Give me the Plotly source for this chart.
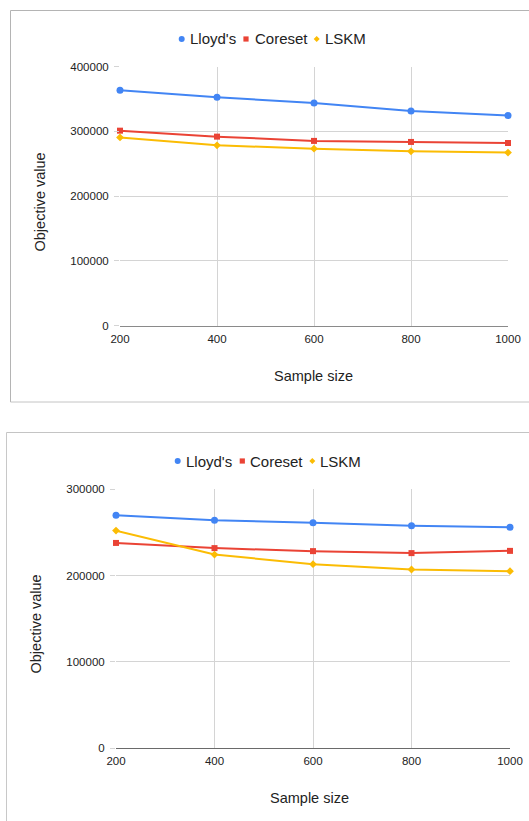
import plotly.graph_objects as go

# ---------------- data ----------------
sample_sizes = [200, 400, 600, 800, 1000]
series_names = ["Lloyd's", "Coreset", "LSKM"]
series_colors = ["#4285F4", "#EA4335", "#FBBC04"]
series_symbols = ["circle", "square", "diamond"]

# top chart
top_lloyds = [363500, 352800, 344000, 331600, 324500]
top_coreset = [301200, 292000, 285400, 283800, 282200]
top_lskm = [290800, 278600, 273400, 269300, 267300]

# bottom chart
bot_lloyds = [270000, 264200, 261100, 257600, 256100]
bot_coreset = [237800, 231800, 228300, 226000, 228600]
bot_lskm = [252100, 224300, 213200, 207000, 205100]

top_yticks = [0, 100000, 200000, 300000, 400000]
bot_yticks = [0, 100000, 200000, 300000]

x_title = "Sample size"
y_title = "Objective value"

# ---------------- layout helpers ----------------
W, H = 529, 821
FONT = "Liberation Sans, Arial, sans-serif"


def px(x):
    return x / W


def py(y):
    return 1 - y / H


fig = go.Figure()

panels = [
    dict(series=[top_lloyds, top_coreset, top_lskm], xa="x", ya="y"),
    dict(series=[bot_lloyds, bot_coreset, bot_lskm], xa="x2", ya="y2"),
]
marker_sizes = [7, 6, 6]
for p in panels:
    for name, vals, col, sym, ms in zip(series_names, p["series"], series_colors,
                                         series_symbols, marker_sizes):
        fig.add_trace(go.Scatter(
            x=sample_sizes, y=vals, name=name, mode="lines+markers",
            line=dict(color=col, width=2),
            marker=dict(color=col, symbol=sym, size=ms),
            xaxis=p["xa"], yaxis=p["ya"], showlegend=False, cliponaxis=False,
            hoverinfo="x+y+name",
        ))

grid_col = "#d4d4d4"
tick_font = dict(family=FONT, size=11.5, color="#222222")


def xaxis_cfg(domain, anchor, linecol):
    return dict(
        domain=domain, anchor=anchor, range=[200, 1000], tickvals=sample_sizes,
        showgrid=True, gridcolor=grid_col, gridwidth=1, zeroline=False,
        showline=True, linecolor=linecol, linewidth=1, ticks="",
        tickfont=tick_font, ticklabelstandoff=2, fixedrange=True, automargin=False,
    )


def yaxis_cfg(domain, anchor, rng, ticks):
    return dict(
        domain=domain, anchor=anchor, range=rng, tickvals=ticks, tickformat="d",
        showgrid=True, gridcolor=grid_col, gridwidth=1, zeroline=False,
        showline=False, ticks="outside", ticklen=5, tickcolor=grid_col,
        tickfont=tick_font, ticklabelstandoff=3, fixedrange=True, automargin=False,
    )


fig.update_layout(
    width=W, height=H, autosize=False,
    margin=dict(l=0, r=0, t=0, b=0, pad=0, autoexpand=False),
    paper_bgcolor="white", plot_bgcolor="white",
    font=dict(family=FONT, color="#222222"),
    showlegend=False,
    xaxis=xaxis_cfg([px(120), px(508)], "y", "#8a8a8a"),
    yaxis=yaxis_cfg([py(325.7), py(66.7)], "x", [0, 400000], top_yticks),
    xaxis2=xaxis_cfg([px(116), px(510)], "y2", "#6a6a6a"),
    yaxis2=yaxis_cfg([py(748), py(489.3)], "x2", [0, 300000], bot_yticks),
)

shapes = []
annotations = []


def hline(x0, x1, y, col):
    return dict(type="line", xref="paper", yref="paper", x0=px(x0), x1=px(x1),
                y0=py(y), y1=py(y), line=dict(color=col, width=1), layer="below")


def vline(x, y0, y1, col):
    return dict(type="line", xref="paper", yref="paper", x0=px(x), x1=px(x),
                y0=py(y0), y1=py(y1), line=dict(color=col, width=1), layer="below")


# panel borders (kept inside the page so nothing overflows)
shapes += [hline(10.5, W, 10.5, "#b4b4b4"), vline(10.5, 10.5, 402, "#b4b4b4"),
           hline(10.5, W, 402, "#c4c4c4")]
shapes += [hline(6.5, W, 432.5, "#c4c4c4"), vline(6.5, 432.5, H, "#c8c8c8")]

# axis titles
title_font = dict(family=FONT, size=14.5, color="#222222")
for (xc, yc) in [(313.7, 376), (309.7, 797.5)]:
    annotations.append(dict(text=x_title, xref="paper", yref="paper",
                            x=px(xc), y=py(yc), xanchor="center", yanchor="middle",
                            showarrow=False, font=title_font))
for (xc, yc) in [(39.5, 202), (35.5, 624)]:
    annotations.append(dict(text=y_title, xref="paper", yref="paper",
                            x=px(xc), y=py(yc), xanchor="center", yanchor="middle",
                            textangle=-90, showarrow=False, font=title_font))

# legends (marker center x, text start x) per entry, and vertical center
legend_layouts = [
    dict(yc=39, marks=[181.7, 246.0, 316.7], texts=[189.3, 254.0, 324.0]),
    dict(yc=461, marks=[177.7, 242.3, 312.3], texts=[185.3, 249.3, 319.3]),
]
legend_font = dict(family=FONT, size=15, color="#222222")
for lg in legend_layouts:
    yc = lg["yc"]
    for name, col, sym, mx, tx in zip(series_names, series_colors, series_symbols,
                                      lg["marks"], lg["texts"]):
        if sym == "circle":
            shapes.append(dict(type="circle", xref="paper", yref="paper",
                               x0=px(mx - 3), x1=px(mx + 3), y0=py(yc + 3), y1=py(yc - 3),
                               fillcolor=col, line=dict(width=0)))
        elif sym == "square":
            shapes.append(dict(type="rect", xref="paper", yref="paper",
                               x0=px(mx - 2.6), x1=px(mx + 2.6), y0=py(yc + 2.6), y1=py(yc - 2.6),
                               fillcolor=col, line=dict(width=0)))
        else:
            d = 3.0
            path = "M {a},{b} L {c},{e} L {a},{f} L {g},{e} Z".format(
                a=px(mx), b=py(yc - d), c=px(mx + d), e=py(yc), f=py(yc + d), g=px(mx - d))
            shapes.append(dict(type="path", xref="paper", yref="paper", path=path,
                               fillcolor=col, line=dict(width=0)))
        annotations.append(dict(text=name, xref="paper", yref="paper",
                                x=px(tx), y=py(yc), xanchor="left", yanchor="middle",
                                showarrow=False, font=legend_font,
                                borderpad=0))

fig.update_layout(shapes=shapes, annotations=annotations)

fig.write_html(
    "out.html",
    config={"displayModeBar": False, "staticPlot": True},
    post_script="document.body.style.margin='0';"
                "document.body.style.padding='0';"
                "document.body.style.overflow='hidden';"
                "document.documentElement.style.overflow='hidden';",
)
